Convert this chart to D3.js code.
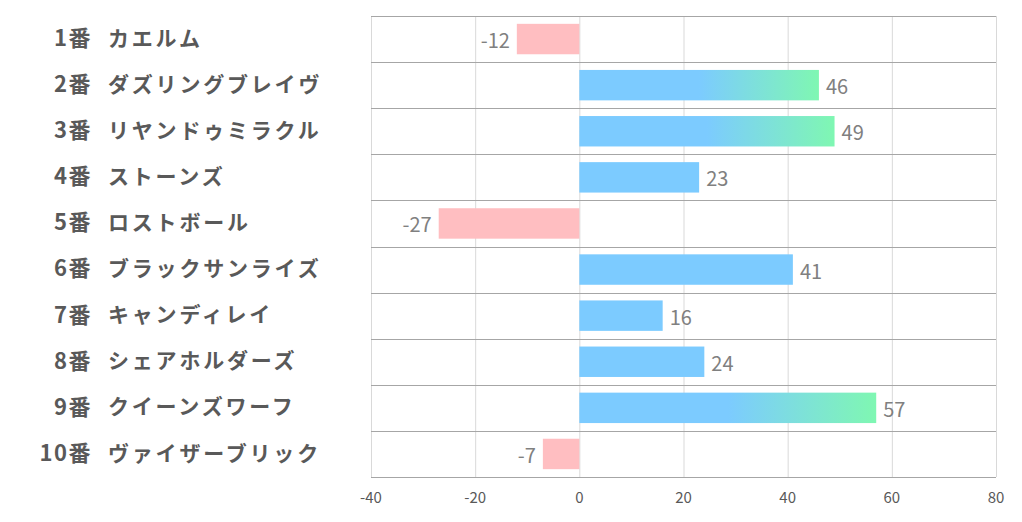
<!DOCTYPE html>
<html>
<head>
<meta charset="utf-8">
<script src="https://d3js.org/d3.v7.min.js"></script>
<style>
  body { margin: 0; background: #fff; }
  text { font-family: "Noto Sans CJK JP", "Noto Sans", sans-serif; }
</style>
</head>
<body>
<div id="chart"></div>
<script>
// data
var numbers = ["1番", "2番", "3番", "4番", "5番", "6番", "7番", "8番", "9番", "10番"];
var horses = ["カエルム", "ダズリングブレイヴ", "リヤンドゥミラクル", "ストーンズ", "ロストボール",
              "ブラックサンライズ", "キャンディレイ", "シェアホルダーズ", "クイーンズワーフ", "ヴァイザーブリック"];
var scores = [-12, 46, 49, 23, -27, 41, 16, 24, 57, -7];
var highlighted = [false, true, true, false, false, false, false, false, true, false];
var xTicks = [-40, -20, 0, 20, 40, 60, 80];

var W = 1022, H = 522;
var margin = { top: 16, right: 26, bottom: 45, left: 371 };
var width = W - margin.left - margin.right,
    height = H - margin.top - margin.bottom;

var svg = d3.select("#chart").append("svg")
    .attr("width", W).attr("height", H);

var defs = svg.append("defs");
var grad = defs.append("linearGradient")
    .attr("id", "hl").attr("x1", "0%").attr("x2", "100%").attr("y1", "0%").attr("y2", "0%");
grad.append("stop").attr("offset", "0%").attr("stop-color", "#7ccbff");
grad.append("stop").attr("offset", "50%").attr("stop-color", "#7ccbff");
grad.append("stop").attr("offset", "100%").attr("stop-color", "#7ff7b2");

var g = svg.append("g")
    .attr("transform", "translate(" + margin.left + "," + margin.top + ")");

var x = d3.scaleLinear().domain([-40, 80]).range([0, width]);
var y = d3.scaleBand().domain(d3.range(scores.length)).range([0, height]);

// vertical gridlines
g.selectAll("line.vg").data(xTicks).enter().append("line")
    .attr("class", "vg")
    .attr("x1", function (d) { return x(d) + 0.5; })
    .attr("x2", function (d) { return x(d) + 0.5; })
    .attr("y1", 0).attr("y2", height)
    .attr("stroke", "#d9d9d9").attr("stroke-width", 1);

// horizontal row lines
var rowEdges = d3.range(scores.length + 1);
g.selectAll("line.hg").data(rowEdges).enter().append("line")
    .attr("class", "hg")
    .attr("x1", 0).attr("x2", width)
    .attr("y1", function (d) { return Math.round(d * y.step()) + 0.5; })
    .attr("y2", function (d) { return Math.round(d * y.step()) + 0.5; })
    .attr("stroke", "#a6a6a6").attr("stroke-width", 1);

var barH = y.bandwidth() * 0.66;

// bars
g.selectAll("rect.bar").data(scores).enter().append("rect")
    .attr("class", "bar")
    .attr("x", function (d) { return x(Math.min(0, d)); })
    .attr("width", function (d) { return Math.abs(x(d) - x(0)); })
    .attr("y", function (d, i) { return y(i) + (y.bandwidth() - barH) / 2; })
    .attr("height", barH)
    .attr("fill", function (d, i) {
        if (d < 0) return "#ffbec1";
        return highlighted[i] ? "url(#hl)" : "#7ccbff";
    });

// value labels
g.selectAll("text.val").data(scores).enter().append("text")
    .attr("class", "val")
    .attr("x", function (d) { return d < 0 ? x(d) - 7 : x(d) + 7; })
    .attr("y", function (d, i) { return y(i) + y.bandwidth() / 2; })
    .attr("dy", "0.45em")
    .attr("text-anchor", function (d) { return d < 0 ? "end" : "start"; })
    .attr("font-size", 20)
    .attr("fill", "#808080")
    .text(function (d) { return d; });

// x axis tick labels
g.selectAll("text.tick").data(xTicks).enter().append("text")
    .attr("class", "tick")
    .attr("x", function (d) { return x(d); })
    .attr("y", height + 26)
    .attr("text-anchor", "middle")
    .attr("font-size", 15)
    .attr("fill", "#595959")
    .text(function (d) { return d; });

// category labels
var lab = svg.append("g").attr("transform", "translate(0," + margin.top + ")");
lab.selectAll("text.num").data(numbers).enter().append("text")
    .attr("class", "num")
    .attr("x", 92)
    .attr("y", function (d, i) { return y(i) + y.bandwidth() / 2 - 1; })
    .attr("dy", "0.36em")
    .attr("text-anchor", "end")
    .attr("font-size", 22).attr("font-weight", "bold")
    .attr("letter-spacing", 1.5)
    .attr("fill", "#595959")
    .text(function (d) { return d; });
lab.selectAll("text.name").data(horses).enter().append("text")
    .attr("class", "name")
    .attr("x", 108)
    .attr("y", function (d, i) { return y(i) + y.bandwidth() / 2 - 1; })
    .attr("dy", "0.36em")
    .attr("font-size", 21).attr("font-weight", "bold")
    .attr("letter-spacing", 2.8)
    .attr("fill", "#595959")
    .text(function (d) { return d; });
</script>
</body>
</html>
